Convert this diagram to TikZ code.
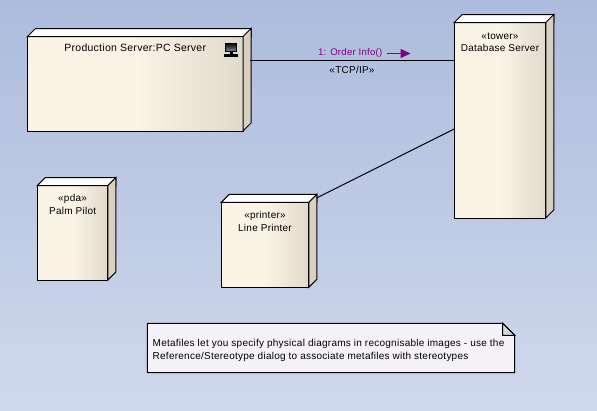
\documentclass[tikz,border=0pt]{standalone}
\usepackage{fontspec}
\setmainfont[LetterSpace=2.5]{Liberation Sans}
\usetikzlibrary{arrows.meta,positioning,calc}
\definecolor{SkyTop}{HTML}{ADBCDD}
\definecolor{SkyLow}{HTML}{CFD8EC}
\definecolor{Cream}{HTML}{FBF3E6}
\definecolor{CreamDark}{HTML}{E1D9CC}
\definecolor{SideFace}{HTML}{D9D0C2}
\definecolor{NotePaper}{HTML}{F6F3F8}
\definecolor{NoteFold}{HTML}{D8D5D5}
\definecolor{MsgPurple}{HTML}{800080}
\definecolor{ScreenGrey}{HTML}{8A8AA8}
\pgfdeclarehorizontalshading{devshade}{100bp}{color(0bp)=(Cream); color(50bp)=(Cream); color(75bp)=(CreamDark); color(100bp)=(CreamDark)}
\tikzset{
  devnode/.style={draw=black,line width=1pt,shading=devshade,outer sep=0pt,inner sep=0pt},
  devlabel/.style={anchor=north,align=center,inner sep=0pt,font=\fontsize{10}{12.6}\selectfont},
  link/.style={draw=black,line width=1pt},
}
\begin{document}
\begin{tikzpicture}[x=1pt,y=-1pt]
  \useasboundingbox (0,0) rectangle (597,410);
  \shade[top color=SkyTop,bottom color=SkyLow] (0,0) rectangle (597,410);
  % links go first, the boxes sit on top of them
  \coordinate (prodport) at (250,60.5);
  \coordinate (printerport) at (316.5,198);
  \node[devnode,minimum width=215.5pt,minimum height=94.5pt] (prod) at (135.25,83.75) {};
  \node[devnode,minimum width=91.5pt,minimum height=195.5pt] (db) at (500,120.25) {};
  \node[devnode,minimum width=70.5pt,minimum height=94.5pt] (palm) at (72.6,232.75) {};
  \node[devnode,minimum width=87.5pt,minimum height=85pt] (printer) at (265,244.8) {};
  \foreach \n in {prod,db,palm,printer}{
    \draw[line width=1pt,fill=white] (\n.north west) -- ++(8,-8) -| ($(\n.north east)+(8,0)$) -- (\n.north east) -- cycle;
    \draw[line width=1pt,fill=SideFace] (\n.north east) -- ++(8,-8) -- ($(\n.south east)+(8,-8)$) -- (\n.south east) -- cycle;
  }
  \coordinate (dbport) at ($(db.north west)+(0,106.5)$);
  \draw[link] (prodport) -- (prodport -| db.west);
  \draw[link] (printerport) -- (dbport);
  \node[devlabel,below=7.5pt of prod.north,anchor=north,font=\fontsize{10.5}{12.6}\selectfont] (prodtext) {Production Server:PC Server};
  \node[devlabel,below=10pt of db.north,anchor=north] (dbtext) {«tower»\\Database Server};
  \node[devlabel,below=9pt of palm.north,anchor=north] (palmtext) {«pda»\\Palm Pilot};
  \node[devlabel,below=9pt of printer.north,anchor=north] (printertext) {«printer»\\Line Printer};
  % little computer in the corner of the server
  \shade[top color=black,bottom color=ScreenGrey,draw=black,line width=0.8pt] (225.5,43) rectangle (236.5,51.5);
  \fill[black] (229.5,51.5) rectangle (232.5,54);
  \fill[black] (224,54) rectangle (238,56.8);
  \node[devlabel,text=MsgPurple,anchor=east,font=\fontsize{9.6}{12.6}\selectfont] (msgtext) at (382.5,53.5) {1: Order Info()};
  \draw[MsgPurple,line width=1pt,-{Triangle[length=10pt,width=9pt]}] ($(msgtext.east)+(4,0)$) coordinate (msgtail) -- ++(24,0) coordinate (msghead);
  \node[devlabel,anchor=center] (tcptext) at (352,70) {«TCP/IP»};
  % note with the turned corner
  \node[inner sep=0pt,minimum width=367pt,minimum height=49pt] (note) at (331,348) {};
  \draw[line width=1pt,fill=NotePaper] (note.north west) -- ($(note.north east)+(-12,0)$) -- ($(note.north east)+(0,12)$) -- (note.south east) -- (note.south west) -- cycle;
  \draw[line width=1pt,fill=NoteFold] ($(note.north east)+(-12,0)$) -- ($(note.north east)+(-12,12)$) -- ($(note.north east)+(0,12)$) -- cycle;
  \node[devlabel,anchor=west,align=left] (notetext) at (152.5,350.5) {Metafiles let you specify physical diagrams in recognisable images - use the\\Reference/Stereotype dialog to associate metafiles with stereotypes};
\end{tikzpicture}
\end{document}
